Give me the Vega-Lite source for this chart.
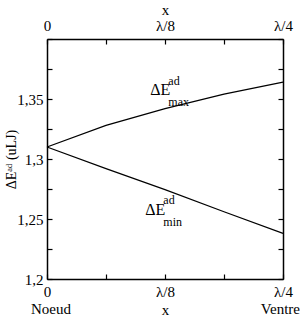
{
  "$schema": "https://vega.github.io/schema/vega-lite/v6.json",
  "width": 236,
  "height": 240,
  "autosize": "none",
  "padding": {"left": 47, "top": 39, "right": 18, "bottom": 40},
  "background": "white",
  "config": {
    "view": {"stroke": null},
    "font": "Liberation Serif",
    "axis": {
      "domainColor": "black",
      "domainWidth": 1.5,
      "tickColor": "black",
      "tickWidth": 1.2,
      "tickSize": 5,
      "grid": false,
      "labelFont": "Liberation Serif",
      "labelFontSize": 15,
      "labelColor": "black",
      "titleFont": "Liberation Serif",
      "titleFontSize": 15,
      "titleFontWeight": "normal",
      "titleColor": "black"
    }
  },
  "datasets": {
    "curves": [
      {"x": 0, "E": 1.310, "s": "max"},
      {"x": 0.0625, "E": 1.328, "s": "max"},
      {"x": 0.125, "E": 1.342, "s": "max"},
      {"x": 0.1875, "E": 1.354, "s": "max"},
      {"x": 0.25, "E": 1.364, "s": "max"},
      {"x": 0, "E": 1.310, "s": "min"},
      {"x": 0.0625, "E": 1.292, "s": "min"},
      {"x": 0.125, "E": 1.2745, "s": "min"},
      {"x": 0.1875, "E": 1.256, "s": "min"},
      {"x": 0.25, "E": 1.238, "s": "min"}
    ],
    "labels": [
      {"x": 0.1094, "E": 1.3533, "t": "ΔE", "k": "main"},
      {"x": 0.1285, "E": 1.3617, "t": "ad", "k": "small"},
      {"x": 0.1285, "E": 1.3440, "t": "max", "k": "small"},
      {"x": 0.1040, "E": 1.2533, "t": "ΔE", "k": "main"},
      {"x": 0.1232, "E": 1.2625, "t": "ad", "k": "small"},
      {"x": 0.1232, "E": 1.2442, "t": "min", "k": "small"}
    ],
    "noeud": [{"x": 0, "E": 1.2, "t": "Noeud"}],
    "ventre": [{"x": 0.25, "E": 1.2, "t": "Ventre"}]
  },
  "layer": [
    {
      "data": {"name": "curves"},
      "mark": {"type": "line", "color": "black", "strokeWidth": 1.2},
      "encoding": {
        "x": {
          "field": "x", "type": "quantitative",
          "scale": {"domain": [0, 0.25], "nice": false, "zero": false},
          "axis": {
            "orient": "bottom",
            "title": "x",
            "values": [0, 0.0625, 0.125, 0.1875, 0.25],
            "labelExpr": "datum.value == 0 ? '0' : datum.value == 0.125 ? 'λ/8' : datum.value == 0.25 ? 'λ/4' : ''",
            "labelPadding": 10,
            "titlePadding": 3,
            "labelOverlap": false,
            "labelFlush": false,
            "tickSize": -5
          }
        },
        "y": {
          "field": "E", "type": "quantitative",
          "scale": {"domain": [1.2, 1.4], "nice": false, "zero": false},
          "axis": {
            "orient": "left",
            "title": "ΔEᵃᵈ (uLJ)",
            "titleFontSize": 14,
            "values": [1.2, 1.225, 1.25, 1.275, 1.3, 1.325, 1.35, 1.375, 1.4],
            "labelExpr": "(datum.value == 1.2 || datum.value == 1.25 || datum.value == 1.3 || datum.value == 1.35) ? replace(format(datum.value, '.2~f'), '.', ',') : ''",
            "tickSize": -5,
            "labelPadding": 9,
            "titlePadding": -2,
            "labelOverlap": false,
            "labelFlush": false
          }
        },
        "detail": {"field": "s"}
      }
    },
    {
      "data": {"name": "curves"},
      "mark": {"type": "line", "opacity": 0},
      "encoding": {
        "x": {
          "field": "x", "type": "quantitative",
          "axis": {
            "orient": "top",
            "title": "x",
            "values": [0, 0.0625, 0.125, 0.1875, 0.25],
            "labelExpr": "datum.value == 0 ? '0' : datum.value == 0.125 ? 'λ/8' : datum.value == 0.25 ? 'λ/4' : ''",
            "tickSize": -5,
            "labelPadding": 11,
            "titlePadding": 1,
            "labelOverlap": false,
            "labelFlush": false
          }
        },
        "y": {
          "field": "E", "type": "quantitative",
          "axis": {
            "orient": "right",
            "title": null,
            "values": [1.2, 1.225, 1.25, 1.275, 1.3, 1.325, 1.35, 1.375, 1.4],
            "labels": false,
            "tickSize": -5
          }
        },
        "detail": {"field": "s"}
      }
    },
    {
      "data": {"name": "labels"},
      "mark": {"type": "text", "align": "left", "baseline": "alphabetic", "color": "black", "font": "Liberation Serif"},
      "encoding": {
        "x": {"field": "x", "type": "quantitative", "axis": null},
        "y": {"field": "E", "type": "quantitative", "axis": null},
        "text": {"field": "t"},
        "size": {
          "field": "k", "type": "nominal",
          "scale": {"domain": ["main", "small"], "range": [16, 12]},
          "legend": null
        }
      }
    },
    {
      "data": {"name": "noeud"},
      "mark": {"type": "text", "align": "center", "baseline": "top", "dx": 4, "dy": 23, "fontSize": 15, "color": "black", "font": "Liberation Serif"},
      "encoding": {
        "x": {"field": "x", "type": "quantitative", "axis": null},
        "y": {"field": "E", "type": "quantitative", "axis": null},
        "text": {"field": "t"}
      }
    },
    {
      "data": {"name": "ventre"},
      "mark": {"type": "text", "align": "right", "baseline": "top", "dx": 17, "dy": 23, "fontSize": 15, "color": "black", "font": "Liberation Serif"},
      "encoding": {
        "x": {"field": "x", "type": "quantitative", "axis": null},
        "y": {"field": "E", "type": "quantitative", "axis": null},
        "text": {"field": "t"}
      }
    }
  ],
  "resolve": {"axis": {"x": "independent", "y": "independent"}}
}
